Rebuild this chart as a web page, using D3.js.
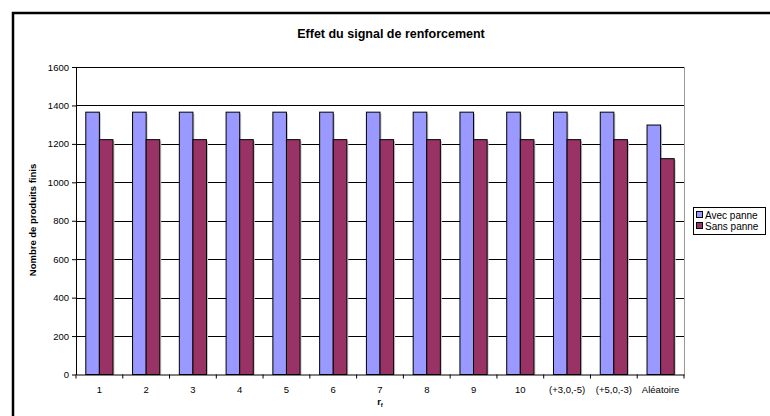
<!DOCTYPE html>
<html><head><meta charset="utf-8">
<script src="https://cdn.jsdelivr.net/npm/d3@7"></script>
<style>body{margin:0;background:#fff}svg{display:block;font-family:"Liberation Sans",Arial,sans-serif}</style>
</head><body>
<svg id="c" width="770" height="416"></svg>
<script>
const categories = ["1","2","3","4","5","6","7","8","9","10","(+3,0,-5)","(+5,0,-3)","Aléatoire"];
const avecPanne = [1365,1365,1365,1365,1365,1365,1365,1365,1365,1365,1365,1365,1298];
const sansPanne = [1222,1222,1222,1222,1222,1222,1222,1222,1222,1222,1222,1222,1123];
const seriesNames = ["Avec panne","Sans panne"];
const colors = ["#9999FF","#993366"];
const yTicks = [0,200,400,600,800,1000,1200,1400,1600];

const svg = d3.select("#c");
// outer frame
svg.append("rect").attr("x",13).attr("y",13).attr("width",780).attr("height",420)
  .attr("fill","#fff").attr("stroke","#000").attr("stroke-width",2.5);

const L=76, R=684, T=67, B=374.5;
const x = d3.scaleBand().domain(categories).range([L,R]).paddingInner(0).paddingOuter(0);
const y = d3.scaleLinear().domain([0,1600]).range([B,T]);
const inner = d3.scaleBand().domain(seriesNames).range([0,x.bandwidth()]).paddingInner(0).paddingOuter(0.72);

// gridlines
svg.append("g").selectAll("line").data(yTicks.filter(d=>d>0)).join("line")
  .attr("x1",L).attr("x2",R).attr("y1",d=>Math.round(y(d))+0.5).attr("y2",d=>Math.round(y(d))+0.5)
  .attr("stroke","#000").attr("stroke-width",1);
// right border of plot
svg.append("line").attr("x1",R+0.5).attr("x2",R+0.5).attr("y1",T).attr("y2",B).attr("stroke","#999");

const data = categories.map((c,i)=>({c, vals:[avecPanne[i],sansPanne[i]]}));
const g = svg.append("g").selectAll("g").data(data).join("g")
  .attr("transform",d=>`translate(${x(d.c)},0)`);
// shadows
g.selectAll("rect.s").data(d=>d.vals.map((v,k)=>({v,k}))).join("rect").attr("class","s")
  .attr("x",d=>inner(seriesNames[d.k])+1.5).attr("y",d=>y(d.v)+1.5)
  .attr("width",inner.bandwidth()).attr("height",d=>B-y(d.v)-1.5).attr("fill","#c8c8c8");
g.selectAll("rect.b").data(d=>d.vals.map((v,k)=>({v,k}))).join("rect").attr("class","b")
  .attr("x",d=>inner(seriesNames[d.k])).attr("y",d=>y(d.v))
  .attr("width",inner.bandwidth()).attr("height",d=>B-y(d.v))
  .attr("fill",d=>colors[d.k]).attr("stroke","#000").attr("stroke-width",1);

// y axis
const ya = svg.append("g").attr("transform",`translate(${L},0)`)
  .call(d3.axisLeft(y).tickValues(yTicks).tickFormat(d3.format("d")).tickSize(4).tickPadding(3).tickSizeOuter(0));
ya.select(".domain").attr("stroke","#000");
ya.selectAll("text").attr("font-size",9.5).attr("fill","#000").attr("font-family","Liberation Sans, Arial, sans-serif");

// x axis
const xa = svg.append("g").attr("transform",`translate(0,${B})`)
  .call(d3.axisBottom(x).tickSize(0).tickPadding(12).tickSizeOuter(0));
xa.select(".domain").attr("stroke","#000");
xa.selectAll("text").attr("font-size",9.5).attr("fill","#000").attr("font-family","Liberation Sans, Arial, sans-serif");
svg.append("g").selectAll("line").data(categories.concat(["__end"])).join("line")
  .attr("x1",(d,i)=>L+i*x.bandwidth()).attr("x2",(d,i)=>L+i*x.bandwidth())
  .attr("y1",B).attr("y2",B+4).attr("stroke","#000");

// title
svg.append("text").attr("x",391).attr("y",38).attr("text-anchor","middle")
  .attr("font-size",12.5).attr("font-weight","bold").text("Effet du signal de renforcement");
// y label
svg.append("text").attr("transform","translate(36,220) rotate(-90)").attr("text-anchor","middle")
  .attr("font-size",9.5).attr("font-weight","bold").text("Nombre de produits finis");
// x label
const xl = svg.append("text").attr("x",380).attr("y",405).attr("text-anchor","middle")
  .attr("font-size",9.5).attr("font-weight","bold");
xl.append("tspan").text("r");
xl.append("tspan").attr("font-size",6).attr("dy",2).text("f");

// legend
const lg = svg.append("g").attr("transform","translate(693,207)");
lg.append("rect").attr("x",0.5).attr("y",0.5).attr("width",72).attr("height",27).attr("fill","#fff").attr("stroke","#000");
seriesNames.forEach((n,i)=>{
  lg.append("rect").attr("x",3.5).attr("y",4.5+i*11).attr("width",6).attr("height",6)
    .attr("fill",colors[i]).attr("stroke","#000");
  lg.append("text").attr("x",12).attr("y",11.5+i*11).attr("font-size",10).text(n);
});
</script>
</body></html>
